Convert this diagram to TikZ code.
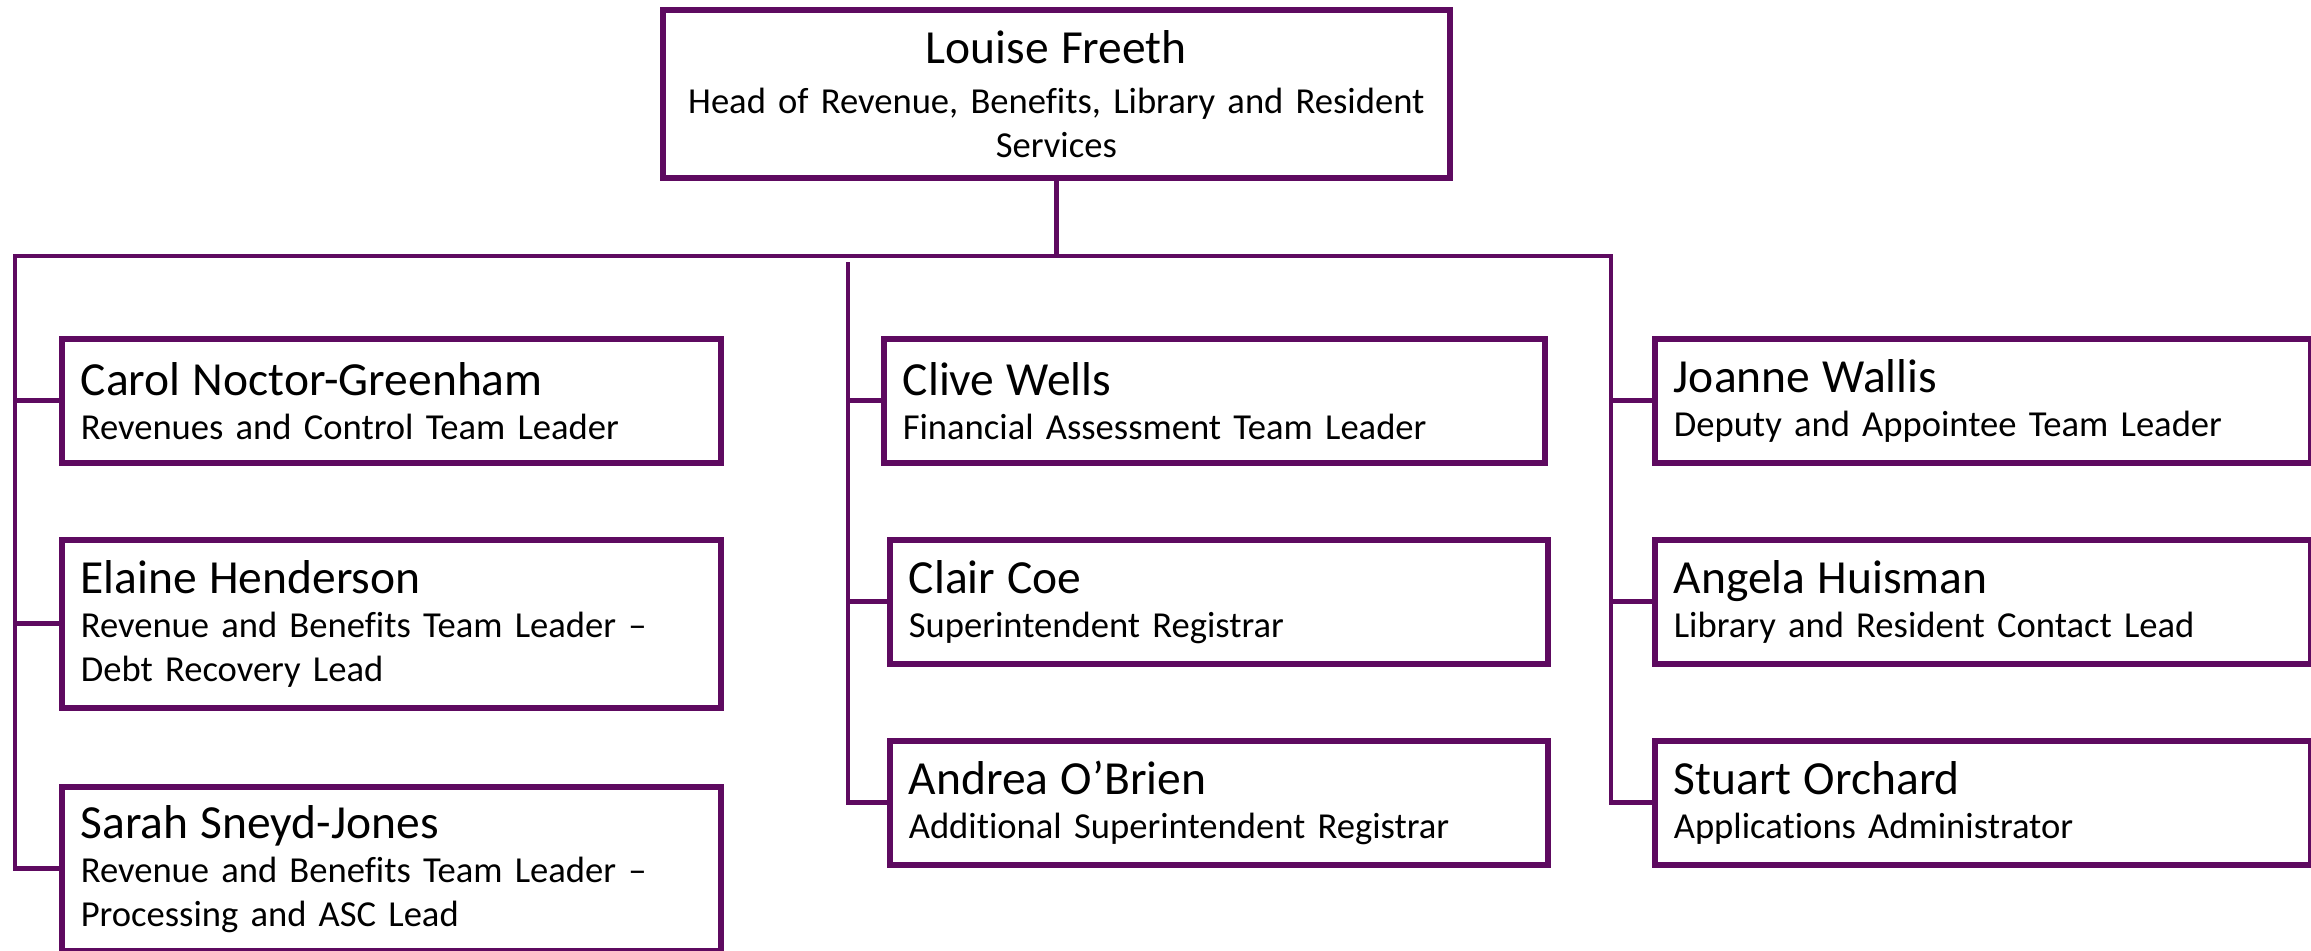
\documentclass[tikz,border=0pt]{standalone}
\usepackage{fontspec}
\setmainfont{Carlito}[Ligatures=NoCommon, WordSpace=0.9]
\definecolor{pur}{RGB}{94,10,96}
\newcommand\pname[1]{{\fontsize{23.75}{22}\selectfont #1}}
\begin{document}
\begin{tikzpicture}[x=0.5pt,y=-0.5pt,
  box/.style={draw=pur, line width=2.8pt, rectangle, inner xsep=9.5pt, inner ysep=0pt,
    anchor=north west, align=left, font=\fontsize{18.3}{22}\selectfont},
  link/.style={draw=pur, line width=2.4pt, line join=miter}]
\useasboundingbox (0,0) rectangle (2311,950);
% head
\node[box, align=center, text width=374.5pt, minimum height=84pt] (head) at (660,7)
  {\pname{Louise Freeth}\\[3pt]Head of Revenue, Benefits, Library and Resident\\Services};
% left column
\node[box, text width=310.5pt, minimum height=62pt] (carol) at (59,336)
  {\pname{Carol Noctor-Greenham}\\Revenues and Control Team Leader};
\node[box, text width=310.5pt, minimum height=84pt] (elaine) at (59,537)
  {\pname{Elaine Henderson}\\Revenue and Benefits Team Leader –\\Debt Recovery Lead};
\node[box, text width=310.5pt, minimum height=82pt] (sarah) at (59,784)
  {\pname{Sarah Sneyd-Jones}\\Revenue and Benefits Team Leader –\\Processing and ASC Lead};
% middle column
\node[box, text width=311.5pt, minimum height=62pt] (clive) at (881,336)
  {\pname{Clive Wells}\\Financial Assessment Team Leader};
\node[box, text width=310pt, minimum height=62pt] (clair) at (887,537)
  {\pname{Clair Coe}\\Superintendent Registrar};
\node[box, text width=310pt, minimum height=62pt] (andrea) at (887,738)
  {\pname{Andrea O’Brien}\\Additional Superintendent Registrar};
% right column
\node[box, text width=309pt, minimum height=62pt] (joanne) at (1652,336)
  {\pname{Joanne Wallis}\\Deputy and Appointee Team Leader};
\node[box, text width=309pt, minimum height=62pt] (angela) at (1652,537)
  {\pname{Angela Huisman}\\Library and Resident Contact Lead};
\node[box, text width=309pt, minimum height=62pt] (stuart) at (1652,738)
  {\pname{Stuart Orchard}\\Applications Administrator};
% connectors
\coordinate (busL) at (15,256);
\coordinate (busM) at (848,262);
\coordinate (busR) at (1611,256);
\draw[link] (head.south) -- (head.south |- busL);
\draw[link] (sarah.west) -- (busL |- sarah.west) -- (busL) -- (busR) -- (busR |- stuart.west) -- (stuart.west);
\draw[link] (busL |- carol.west) -- (carol.west);
\draw[link] (busL |- elaine.west) -- (elaine.west);
\draw[link] (busM) -- (busM |- andrea.west) -- (andrea.west);
\draw[link] (busM |- clive.west) -- (clive.west);
\draw[link] (busM |- clair.west) -- (clair.west);
\draw[link] (busR |- joanne.west) -- (joanne.west);
\draw[link] (busR |- angela.west) -- (angela.west);
\end{tikzpicture}
\end{document}
